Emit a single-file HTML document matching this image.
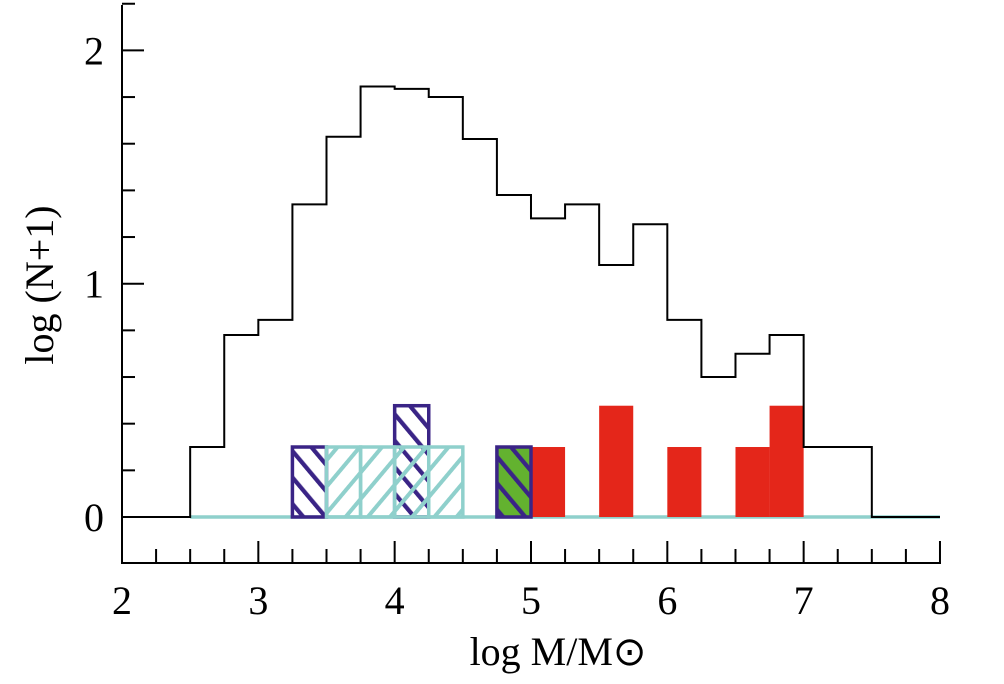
<!DOCTYPE html>
<html><head><meta charset="utf-8"><style>
html,body{margin:0;padding:0;background:#fff;}
svg{display:block;font-family:"Liberation Serif",serif;}
</style></head><body>
<svg id="chart" width="1004" height="684" viewBox="0 0 1004 684" xmlns="http://www.w3.org/2000/svg">
<defs>
<pattern id="hatchP" patternUnits="userSpaceOnUse" width="17" height="17" patternTransform="rotate(-40)">
<line x1="2" y1="0" x2="2" y2="17" stroke="#3a2486" stroke-width="4.5"/>
</pattern>
<pattern id="hatchC" patternUnits="userSpaceOnUse" width="17" height="17" patternTransform="rotate(40)">
<line x1="2" y1="0" x2="2" y2="17" stroke="#8fd0cc" stroke-width="4"/>
</pattern>
</defs>
<g id="marks"></g>
<g id="axes"></g>
</svg>
<script>
const binStarts = [2.0,2.25,2.5,2.75,3.0,3.25,3.5,3.75,4.0,4.25,4.5,4.75,5.0,5.25,5.5,5.75,6.0,6.25,6.5,6.75,7.0,7.25,7.5,7.75];
const allValues = [0,0,0.30,0.78,0.845,1.34,1.63,1.845,1.835,1.80,1.62,1.38,1.28,1.34,1.08,1.255,0.845,0.60,0.70,0.78,0.30,0.30,0,0];
const redBins = [5.0,5.5,6.0,6.5,6.75];
const redValues = [0.30,0.477,0.30,0.30,0.477];
const purpleBins = [3.25,4.0,4.75];
const purpleValues = [0.30,0.477,0.30];
const cyanBins = [3.5,3.75,4.0,4.25];
const cyanValues = [0.30,0.30,0.30,0.30];
const greenBins = [4.75];
const greenValues = [0.30];
const xTicks = [2,3,4,5,6,7,8];
const yTicks = [0,1,2];
const binW = 0.25;

const X = v => 122 + (v - 2) * 136.33;
const Y = v => 517 - v * 233.3;
const NS = "http://www.w3.org/2000/svg";
const marks = document.getElementById('marks');
const axes = document.getElementById('axes');
function mk(tag, attrs, parent){const e=document.createElementNS(NS,tag);for(const k in attrs)e.setAttribute(k,attrs[k]);parent.appendChild(e);return e;}

const base = mk('line',{x1:X(2.5),x2:X(8),y1:Y(0),y2:Y(0),stroke:'#8fd0cc','stroke-width':3.5},marks);



function bars(bins, vals, fill, stroke, sw, name){
  bins.forEach((b,i)=>{
    const r = mk('rect',{x:X(b),y:Y(vals[i]),width:X(b+binW)-X(b),height:Y(0)-Y(vals[i]),fill:fill,stroke:stroke,'stroke-width':sw},marks);
    
    
  });
}
bars(redBins, redValues, '#e4261a', 'none', 0, 'red');
bars(greenBins, greenValues, '#63b22f', 'none', 0, 'green');
bars(purpleBins, purpleValues, 'url(#hatchP)', '#3a2486', 3.5, 'purple');
bars(cyanBins, cyanValues, 'url(#hatchC)', '#8fd0cc', 3.5, 'cyan');

let d = 'M'+X(binStarts[0])+','+Y(allValues[0]);
binStarts.forEach((b,i)=>{ d += ' L'+X(b)+','+Y(allValues[i])+' L'+X(b+binW)+','+Y(allValues[i]); });
const step = mk('path',{d:d,fill:'none',stroke:'#000','stroke-width':2},marks);



const yax = mk('line',{x1:122,x2:122,y1:5,y2:564,stroke:'#000','stroke-width':2},axes);


const xax = mk('line',{x1:121,x2:941,y1:563,y2:563,stroke:'#000','stroke-width':2},axes);


for(let v=2; v<=8.001; v+=0.25){
  const major = Math.abs(v-Math.round(v))<1e-6;
  const t = mk('line',{x1:X(v),x2:X(v),y1:563,y2:major?541:549,stroke:'#000','stroke-width':2},axes);
  
  
}
for(let v=0; v<=2.2001; v+=0.2){
  const major = Math.abs(v-Math.round(v))<1e-6;
  const t = mk('line',{x1:122,x2:major?144:135,y1:Y(v),y2:Y(v),stroke:'#000','stroke-width':2},axes);
  
  
}
xTicks.forEach(v=>{
  const t = mk('text',{x:X(v),y:614,'text-anchor':'middle','font-size':40},axes);
  t.textContent = v;
  
  
});
yTicks.forEach(v=>{
  const t = mk('text',{x:104,y:Y(v)+14,'text-anchor':'end','font-size':40},axes);
  t.textContent = v;
  
  
});
const xt = mk('text',{x:558,y:665,'text-anchor':'middle','font-size':40},axes);
xt.textContent = 'log M/M\u2299';


const yt = mk('text',{x:0,y:0,'text-anchor':'middle','font-size':40,transform:'translate(53,285) rotate(-90)'},axes);
yt.textContent = 'log (N+1)';


</script>
</body></html>
